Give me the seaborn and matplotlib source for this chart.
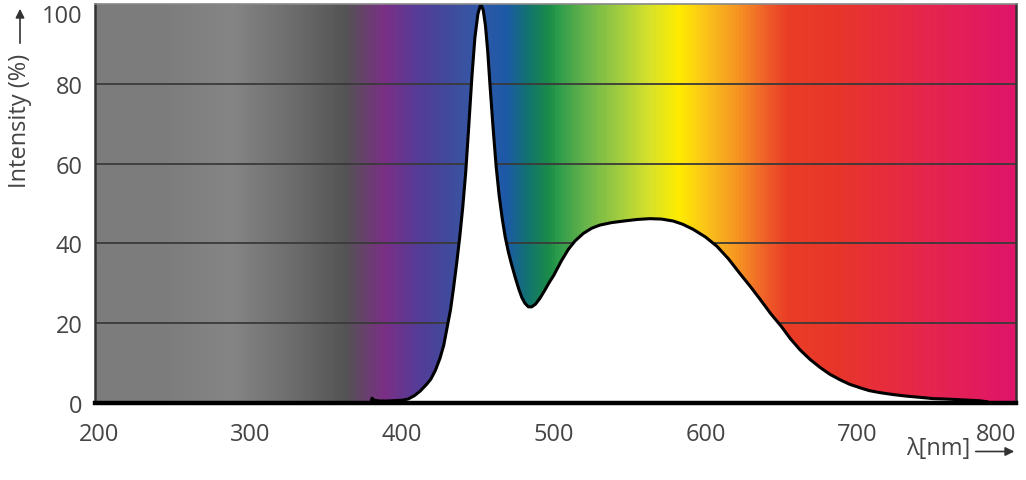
import numpy as np
import matplotlib
matplotlib.use('Agg')
import matplotlib.pyplot as plt
from matplotlib.colors import LinearSegmentedColormap
from matplotlib.transforms import ScaledTranslation
import seaborn as sns

# spectrum (nm, % intensity)
wavelength = [379.5, 380.2, 381.5, 385, 390, 395, 400, 404, 408, 412, 416, 419, 422, 425,
              427.5, 430, 432, 434, 436, 438, 440, 442, 444, 446, 448, 450, 451.9, 453.5,
              455, 456.5, 458, 460, 462, 464, 466, 468, 470, 472, 474.5, 477, 479, 481,
              483.3, 485.5, 488, 491, 494.3, 497, 500, 505, 509.6, 514, 519.5, 525, 530.5,
              538, 546, 555, 563.5, 571, 578.8, 585, 592, 600, 607.5, 615, 622.8, 630, 636,
              643, 650, 656, 662.4, 669, 675.6, 682, 688.8, 695, 702, 708, 715, 724, 733,
              742, 750, 758, 766, 774, 781, 786]
intensity = [0.0, 1.2, 0.7, 0.5, 0.5, 0.6, 0.7, 1.0, 1.8, 3.0, 4.6, 6.0, 8.2, 11.2,
             14.5, 19.5, 23.5, 29.0, 35.0, 41.5, 49.0, 58.0, 69.5, 81.5, 91.5, 97.5, 100.0, 98.5,
             94.5, 88.0, 79.5, 69.0, 59.4, 52.0, 46.3, 41.6, 38.0, 35.0, 31.6, 28.5, 26.4, 25.0,
             24.1, 24.1, 24.8, 26.3, 28.4, 30.2, 32.0, 35.6, 38.5, 40.6, 42.5, 43.8, 44.6,
             45.2, 45.6, 46.0, 46.2, 46.1, 45.6, 44.8, 43.5, 41.6, 39.3, 36.2, 32.4, 29.0, 26.0,
             22.4, 19.2, 16.1, 13.3, 10.9, 8.9, 7.2, 5.8, 4.7, 3.8, 3.1, 2.6, 2.1, 1.7,
             1.4, 1.1, 1.0, 0.85, 0.7, 0.55, 0.3]

x_ticks = [200, 300, 400, 500, 600, 700, 800]
y_ticks = [0, 20, 40, 60, 80, 100]

# background colour band (nm, colour)
band_nm = [197, 245, 287, 331, 362, 388, 410, 430, 441, 452, 469, 482, 497, 502, 524,
           546, 563, 583, 600, 622, 642, 655, 688, 721, 753, 786, 805]
band_col = ['#7c7c7c', '#7d7d7d', '#858585', '#6a6a6a', '#545454', '#7b2f86', '#553c98',
            '#414a9c', '#3a53a2', '#2f58a6', '#1c5aa8', '#137272', '#1b8c48', '#2a9a4c',
            '#70b84a', '#a8cf3d', '#d6e22c', '#ffec00', '#fbc51a', '#f69422', '#ef5a2a',
            '#ea3d26', '#e8362b', '#e72c3e', '#e52450', '#e21a60', '#df166a']

sns.set_theme(style='white')
plt.rcParams['font.family'] = ['Open Sans', 'DejaVu Sans']

fig = plt.figure(figsize=(10.26, 4.81), dpi=100)
ax = fig.add_axes([95 / 1026, 1 - 404 / 481, (1016 - 95) / 1026, (404 - 5) / 481])

x0, x1 = band_nm[0], band_nm[-1]
stops = [((n - x0) / (x1 - x0), c) for n, c in zip(band_nm, band_col)]
cmap = LinearSegmentedColormap.from_list('spectrum', stops)
ax.imshow(np.linspace(0, 1, 1200)[None, :], extent=[x0, x1, 0, 100], cmap=cmap,
          aspect='auto', interpolation='bilinear', zorder=0)

for y in y_ticks[1:-1]:
    ax.axhline(y, color='#3a3a3a', lw=1.3, zorder=1)

ax.fill_between(wavelength, intensity, 0, color='white', lw=0, zorder=2)
sns.lineplot(x=wavelength, y=intensity, color='black', lw=2.2, ax=ax, zorder=3)

ax.set_xlim(197.6, 804.7)
ax.set_ylim(0, 100)
ax.set_xticks(x_ticks)
ax.set_yticks(y_ticks)
ax.tick_params(axis='x', length=0, pad=14, labelsize=17, labelcolor='#444444')
ax.tick_params(axis='y', length=0, pad=9, labelsize=17, labelcolor='#444444')
ax.set_xlabel('')
ax.set_ylabel('')

# nudge end labels inside like the original
lbl = ax.get_xticklabels()[-1]
lbl.set_transform(lbl.get_transform() + ScaledTranslation(-13 / 100, 0, fig.dpi_scale_trans))
lbl = ax.get_yticklabels()[-1]
lbl.set_transform(lbl.get_transform() + ScaledTranslation(0, -9 / 100, fig.dpi_scale_trans))

for side in ['left', 'right']:
    ax.spines[side].set_color('#333333')
    ax.spines[side].set_linewidth(1.8)
ax.spines['top'].set_color('#888888')
ax.spines['top'].set_linewidth(1.2)
ax.spines['bottom'].set_color('black')
ax.spines['bottom'].set_linewidth(3.2)
for s in ax.spines.values():
    s.set_zorder(4)

# axis titles with arrows
fig.text(20 / 1026, 1 - 121 / 481, 'Intensity (%)', rotation=90, ha='center', va='center',
         fontsize=17, color='#444444')
ax.annotate('', xy=(20, 474), xytext=(20, 434), xycoords='figure pixels',
            textcoords='figure pixels',
            arrowprops=dict(arrowstyle='-|>', color='#333333', lw=1.2, mutation_scale=13))
fig.text(938 / 1026, 1 - 449 / 481, 'λ[nm]', ha='center', va='center',
         fontsize=17, color='#444444')
ax.annotate('', xy=(1017, 28.5), xytext=(973, 28.5), xycoords='figure pixels',
            textcoords='figure pixels',
            arrowprops=dict(arrowstyle='-|>', color='#333333', lw=1.2, mutation_scale=13))

fig.savefig('out.png', dpi=100)
